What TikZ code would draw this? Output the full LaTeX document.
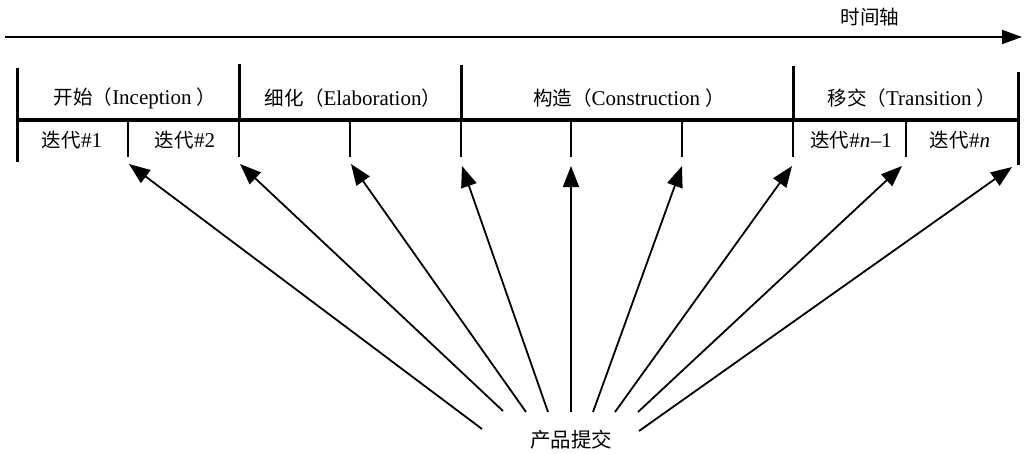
\documentclass[tikz,border=0pt]{standalone}
\usepackage{fontspec}
\setmainfont{Liberation Serif}
\newfontfamily\cjk{Noto Sans CJK SC}[Scale=0.93]
\usetikzlibrary{arrows.meta}
\begin{document}
\begin{tikzpicture}[x=1pt,y=-1pt,
  lbl/.style={font=\fontsize{21}{24}\selectfont, inner sep=0pt, anchor=center},
  phaseline/.style={line width=3pt},
  bar/.style={line width=3.5pt},
  tickline/.style={line width=2pt},
  delivery/.style={line width=1.8pt, -{Triangle[length=21pt,width=16pt]}},
  axisline/.style={line width=2pt, -{Triangle[length=20pt,width=14pt]}}]
\useasboundingbox (0,0) rectangle (1026,453);
% time axis
\coordinate (axs) at (5,37);
\coordinate (axe) at (1022,37);
\draw[axisline] (axs) -- (axe);
\node[lbl] (axlbl) at (870,17) {\cjk 时间轴};
% phase bar
\coordinate (bl) at (15.5,120);
\coordinate (br) at (1019.5,120);
\draw[bar] (bl) -- (br);
\draw[phaseline] (17,68) -- (17,162);
\draw[phaseline] (1018,72) -- (1018,165);
\draw[phaseline] (239,64) -- (239,120);
\draw[phaseline] (461,65) -- (461,120);
\draw[phaseline] (793,66) -- (793,120);
\foreach \x in {128,239,350,461,571,682,793,906}
  \draw[tickline] (\x,120) -- (\x,157);
% phase labels
\node[lbl] (p1) at (135,98) {{\cjk 开始（}Inception {\cjk ）}};
\node[lbl] (p2) at (353,98) {{\cjk 细化（}Elaboration{\cjk ）}};
\node[lbl] (p3) at (629,98) {{\cjk 构造（}Construction {\cjk ）}};
\node[lbl] (p4) at (912,98) {{\cjk 移交（}Transition {\cjk ）}};
% iteration labels
\node[lbl] (i1) at (72,140) {{\cjk 迭代}\#1};
\node[lbl] (i2) at (185,140) {{\cjk 迭代}\#2};
\node[lbl] (i3) at (851,140) {{\cjk 迭代}\#\textit{n}\kern0.5pt\textendash1};
\node[lbl] (i4) at (960,140) {{\cjk 迭代}\#\textit{n}};
% delivery
\node[lbl, font=\fontsize{22}{24}\selectfont] (pd) at (571,440) {\cjk 产品提交};
\coordinate (t1) at (129,164);
\coordinate (t2) at (240,164);
\coordinate (t3) at (351,164);
\coordinate (t4) at (462,166);
\coordinate (t5) at (571,166);
\coordinate (t6) at (682,166);
\coordinate (t7) at (792,166);
\coordinate (t8) at (902,166);
\coordinate (t9) at (1012,167);
\coordinate (s1) at (482,429);
\coordinate (s2) at (503,411);
\coordinate (s3) at (526,412);
\coordinate (s4) at (548,412);
\coordinate (s5) at (571,412);
\coordinate (s6) at (593,412);
\coordinate (s7) at (615,412);
\coordinate (s8) at (638,412);
\coordinate (s9) at (639,431);
\foreach \i in {1,...,9}
  \draw[delivery] (s\i) -- (t\i);
\end{tikzpicture}
\end{document}
